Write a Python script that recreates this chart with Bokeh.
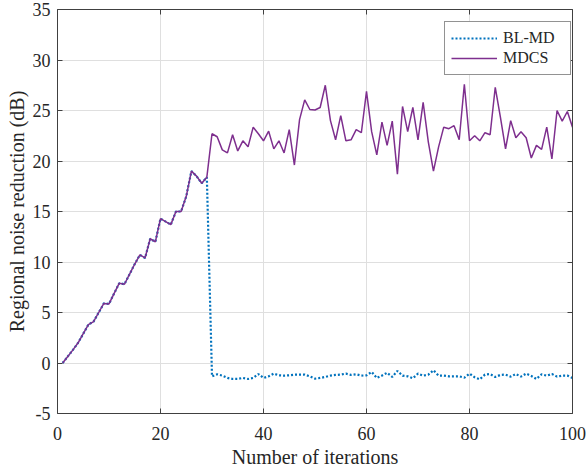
from bokeh.plotting import figure
from bokeh.models import (LinearAxis, FixedTicker, Legend, LegendItem, Range1d,
                          ColumnDataSource)
from bokeh.embed import file_html
from bokeh.resources import INLINE

# ---------------- data ----------------
ramp_iters = list(range(1, 30))
ramp_vals = [0.0, 0.65, 1.3, 2.0, 2.9, 3.8, 4.1, 5.0, 5.9, 5.85,
             6.9, 7.9, 7.8, 8.8, 9.8, 10.7, 10.4, 12.3, 12.0, 14.3,
             14.0, 13.7, 15.0, 15.0, 16.5, 19.0, 18.5, 17.8, 18.4]

tail_iters = list(range(30, 101))
mdcs_tail = [22.7, 22.4, 21.1, 20.8, 22.6, 21.0, 22.0, 21.4, 23.35, 22.7,
             22.0, 22.95, 21.2, 22.0, 20.8, 23.1, 19.6, 24.1, 26.05, 25.1,
             25.05, 25.3, 27.5, 24.0, 22.1, 24.5, 22.0, 22.1, 23.1, 22.8,
             26.9, 22.9, 20.6, 23.85, 21.55, 23.95, 18.7, 25.4, 22.9, 25.3,
             22.1, 25.8, 21.9, 19.0, 21.4, 23.35, 23.2, 23.5, 22.1, 27.6,
             22.0, 22.5, 22.0, 22.8, 22.6, 27.3, 24.35, 21.2, 24.0, 22.3,
             22.9, 22.3, 20.3, 21.55, 21.15, 23.35, 20.2, 25.0, 23.95, 24.9,
             23.35]
blmd_tail = [-1.32, -1.12, -1.25, -1.48, -1.58, -1.58, -1.48, -1.58, -1.48, -1.09,
             -1.48, -1.32, -1.05, -1.22, -1.25, -1.22, -1.15, -1.15, -1.15, -1.32,
             -1.55, -1.48, -1.38, -1.25, -1.18, -1.15, -1.05, -1.18, -1.12, -1.25,
             -1.22, -0.89, -1.48, -1.25, -0.97, -1.38, -0.79, -1.25, -1.32, -1.51,
             -1.05, -1.25, -1.15, -0.72, -1.25, -1.25, -1.32, -1.32, -1.32, -1.45,
             -1.05, -1.41, -1.61, -1.15, -1.09, -1.38, -1.18, -1.15, -1.35, -1.09,
             -1.35, -1.05, -1.28, -1.58, -1.12, -1.25, -1.09, -1.35, -1.25, -1.25,
             -1.48]

series_names = ["BL-MD", "MDCS"]
x_ticks = [0, 20, 40, 60, 80, 100]
y_ticks = [-5, 0, 5, 10, 15, 20, 25, 30, 35]
y_tick_labels = ["-5", "0", "5", "10", "15", "20", "25", "30", "35"]
x_tick_labels = ["0", "20", "40", "60", "80", "100"]

iters = ramp_iters + tail_iters
src = ColumnDataSource(dict(it=iters,
                            blmd=ramp_vals + blmd_tail,
                            mdcs=ramp_vals + mdcs_tail))

# ---------------- figure ----------------
FONT = "Liberation Serif"
AX = "#404040"

p = figure(width=587, height=472, x_range=Range1d(0, 100), y_range=Range1d(-5, 35),
           output_backend="svg", toolbar_location=None,
           min_border_left=57, min_border_right=15, min_border_top=9,
           min_border_bottom=59, x_axis_location=None, y_axis_location=None)
p.outline_line_color = None
p.background_fill_color = "white"
p.border_fill_color = "white"

xt = FixedTicker(ticks=x_ticks)
yt = FixedTicker(ticks=y_ticks)


def style_axis(ax, ticker, labels_vis, labels_map):
    ax.ticker = ticker
    ax.axis_line_color = AX
    ax.axis_line_width = 1
    ax.major_tick_line_color = AX
    ax.major_tick_in = 5
    ax.major_tick_out = 0
    ax.minor_tick_line_color = None
    ax.major_label_text_font = FONT
    ax.axis_label_text_font = FONT
    ax.axis_label_text_font_style = "normal"
    ax.axis_label_text_color = "#262626"
    ax.axis_label_text_font_size = "20px"
    if labels_vis:
        ax.major_label_text_color = "#262626"
        ax.major_label_text_font_size = "18px"
        ax.major_label_overrides = labels_map
    else:
        # mirrored box axis: ticks only, labels not drawn
        ax.major_label_text_color = None
        ax.major_label_text_font_size = "1px"
        ax.major_label_standoff = 0


bottom = LinearAxis(axis_label="Number of iterations")
style_axis(bottom, xt, True, {t: l for t, l in zip(x_ticks, x_tick_labels)})
bottom.major_label_standoff = 13
bottom.axis_label_standoff = 3
p.add_layout(bottom, "below")

left = LinearAxis(axis_label="Regional noise reduction (dB)")
style_axis(left, yt, True, {t: l for t, l in zip(y_ticks, y_tick_labels)})
left.major_label_standoff = 7
left.axis_label_standoff = 2
p.add_layout(left, "left")

top = LinearAxis()
style_axis(top, xt, False, {})
p.add_layout(top, "above")

right = LinearAxis()
style_axis(right, yt, False, {})
p.add_layout(right, "right")

p.xgrid.ticker = xt
p.ygrid.ticker = yt
p.xgrid.grid_line_color = "#dfdfdf"
p.ygrid.grid_line_color = "#dfdfdf"

r1 = p.line("it", "blmd", source=src, line_color="#0072BD", line_width=2.2,
            line_dash="2 2")
r2 = p.line("it", "mdcs", source=src, line_color="#7E2F8E", line_width=1.5)

legend = Legend(items=[LegendItem(label=series_names[0], renderers=[r1]),
                       LegendItem(label=series_names[1], renderers=[r2])],
                location=(387, 338))
legend.label_text_font = FONT
legend.label_text_font_size = "16px"
legend.label_text_color = "#262626"
legend.border_line_color = "#262626"
legend.border_line_width = 1
legend.background_fill_color = "white"
legend.background_fill_alpha = 1
legend.padding = 6
legend.spacing = 0
legend.label_height = 20
legend.glyph_height = 20
legend.glyph_width = 46
legend.label_standoff = 6
legend.label_width = 61
legend.margin = 0
p.add_layout(legend)

open("out.html", "w").write(file_html(p, INLINE))
